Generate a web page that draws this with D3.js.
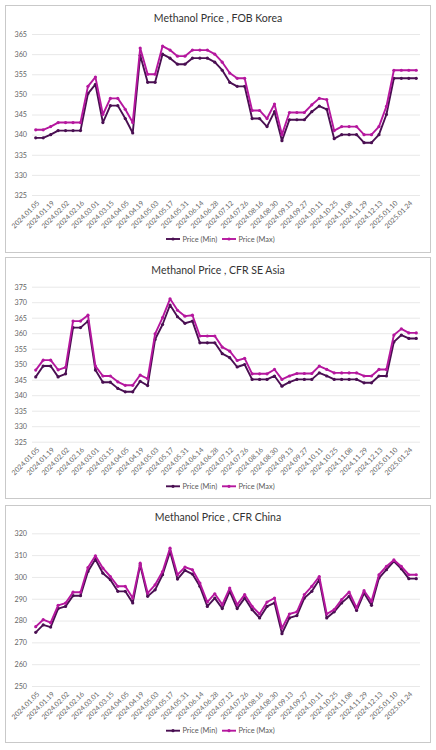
<!DOCTYPE html>
<html><head><meta charset="utf-8">
<script src="https://cdn.jsdelivr.net/npm/d3@7/dist/d3.min.js"></script>
<style>
html,body{margin:0;padding:0;background:#fff;}
svg{display:block;font-family:Lato,"Open Sans",sans-serif;}
</style></head>
<body><svg id="c" width="436" height="750"></svg>
<script>
const categories = ["2024.01.05","2024.01.12","2024.01.19","2024.01.26","2024.02.02","2024.02.09","2024.02.16","2024.02.23","2024.03.01","2024.03.08","2024.03.15","2024.03.22","2024.04.05","2024.04.12","2024.04.19","2024.04.26","2024.05.03","2024.05.10","2024.05.17","2024.05.24","2024.05.31","2024.06.07","2024.06.14","2024.06.21","2024.06.28","2024.07.05","2024.07.12","2024.07.19","2024.07.26","2024.08.02","2024.08.16","2024.08.23","2024.08.30","2024.09.06","2024.09.13","2024.09.20","2024.09.27","2024.10.04","2024.10.11","2024.10.18","2024.10.25","2024.11.01","2024.11.08","2024.11.15","2024.11.29","2024.12.06","2024.12.13","2024.12.20","2025.01.10","2025.01.17","2025.01.24","2025.01.31"];

const seriesNames = ["Price (Min)","Price (Max)"];
const titles = ["Methanol Price , FOB Korea","Methanol Price , CFR SE Asia","Methanol Price , CFR China"];

const korMin = [339.2,339.2,340,341,341,341,341,350.2,352.5,343,347.2,347.2,344,340.4,359.7,353,353,360,359,357.5,357.5,359,359,359,358,356,353,352,352,344,344,342,345.7,338.5,343.7,343.7,343.7,345.7,347.1,346.3,339,340,340,340,338,338,340,345,354,354,354,354];
const korMax = [341.2,341.2,342,343,343,343,343,352,354.3,345,349,349,346.3,343,361.5,355,355,362,361,359.5,359.5,361,361,361,360,358,355.3,354,354,346,346,344,347.6,340,345.5,345.5,345.5,347.4,349,348.7,341,342,342,342,340,340,342,347,356,356,356,356];

const seaMin = [345.9,349.4,349.4,345.9,346.9,361.8,361.8,363.9,348.1,344.2,344.2,342.2,341.1,341.1,344.5,343.1,358,362.8,369.1,365.3,363.2,363.9,356.9,356.9,356.9,353.4,352.1,349.1,349.9,345.1,345.1,345.1,346.2,342.9,344.2,345.1,345.1,345.1,347.2,346.2,345.1,345.1,345.1,345.1,344,344,346.2,346.2,357.2,359.4,358.3,358.3];
const seaMax = [348.1,351.3,351.3,348.2,349,363.9,363.9,365.8,349.4,346.2,346.2,344.3,343.2,343.2,346.5,345.3,359.8,365,371.1,367.4,365.5,365.8,359.1,359.1,359.1,355.5,354.2,351.2,351.9,346.9,346.9,346.9,348.3,345.1,346.2,347,347,347,349.4,348.3,347.2,347.2,347.2,347.2,346.2,346.2,348.3,348.3,359.4,361.4,360.1,360.1];

const chnMin = [274.6,278,277,285.5,286.5,291.4,291.4,302.5,308.1,301.7,298.7,293.4,293.4,288.1,305.5,291.1,294.1,301,311.6,299,303,301.3,295.7,286.5,290.3,285.5,293.4,285.5,290.3,285,281.2,286.5,288.1,274,281.2,282.3,290.3,293.4,298.7,281.2,284,288.1,291.1,284.6,292.6,287,299.5,303.3,307.1,303.7,299.2,299.2];
const chnMax = [277.2,280.4,279,287,288,293,293,304.3,309.7,304,300.2,295.7,295.7,290.3,306.3,292.6,296.4,302.5,313.2,301,304.5,303.3,297.2,288.5,292.3,287.3,294.9,287.3,291.9,286.5,283,288.5,290.3,276.5,283,284,291.9,295.7,300.2,283,285,289.6,293.1,285.8,293.7,288.8,301,304.8,307.8,304.8,301,301];

const korTicks = [325,330,335,340,345,350,355,360,365];
const seaTicks = [325,330,335,340,345,350,355,360,365,370,375];
const chnTicks = [250,260,270,280,290,300,310,320];

const colors = ["#4a0f52","#b5179e"];

const svg = d3.select("#c");

const panels = [
  {box:[5,5,425,247], title:titles[0], titleY:21.5, y0:195, y1:34, ticks:korTicks, series:[korMin,korMax], legendY:239},
  {box:[5,257,425,241], title:titles[1], titleY:273.5, y0:441.7, y1:286.7, ticks:seaTicks, series:[seaMin,seaMax], legendY:486.3},
  {box:[5,505,425,237], title:titles[2], titleY:521, y0:686, y1:533.3, ticks:chnTicks, series:[chnMin,chnMax], legendY:730.7}
];

const x = d3.scaleBand().domain(categories).range([32,420]);

panels.forEach(p => {
  const g = svg.append("g");
  g.append("rect").attr("x",p.box[0]+0.5).attr("y",p.box[1]+0.5).attr("width",p.box[2]).attr("height",p.box[3])
    .attr("fill","#fff").attr("stroke","#c9c9c9").attr("stroke-width",1);
  g.append("text").attr("x",218).attr("y",p.titleY).attr("text-anchor","middle")
    .attr("font-size",10.5).attr("fill","#333").text(p.title);

  const y = d3.scaleLinear().domain(d3.extent(p.ticks)).range([p.y0,p.y1]);

  const ya = g.append("g").attr("transform","translate(32,0)")
    .call(d3.axisLeft(y).tickValues(p.ticks).tickSize(-388).tickPadding(5).tickFormat(d3.format("d")));
  ya.select(".domain").remove();
  ya.selectAll("line").attr("stroke","#e2e2e2").attr("stroke-width",0.8);
  ya.selectAll("text").attr("font-size",7.2).attr("fill","#666").attr("font-family","Lato,sans-serif");

  const xa = g.append("g").attr("transform",`translate(0,${p.y0})`)
    .call(d3.axisBottom(x).tickSize(0).tickFormat((d,i)=> i%2===0 ? d : ""));
  xa.select(".domain").remove();
  xa.selectAll("text").attr("font-size",7).attr("fill","#666").attr("font-family","Lato,sans-serif")
    .attr("text-anchor","end").attr("dy",0)
    .attr("transform","translate(2,6.5) rotate(-45)");

  const line = d3.line().x((d,i)=>x(categories[i])+x.bandwidth()/2).y(d=>y(d));
  p.series.forEach((s,k) => {
    g.append("path").datum(s).attr("d",line).attr("fill","none")
      .attr("stroke",colors[k]).attr("stroke-width",1.9).attr("stroke-linejoin","round");
    g.selectAll(null).data(s).enter().append("circle")
      .attr("cx",(d,i)=>x(categories[i])+x.bandwidth()/2).attr("cy",d=>y(d)).attr("r",1.6)
      .attr("fill",colors[k]);
  });

  const lg = g.append("g");
  const lx = [166,222];
  seriesNames.forEach((n,k) => {
    lg.append("line").attr("x1",lx[k]).attr("x2",lx[k]+14).attr("y1",p.legendY).attr("y2",p.legendY)
      .attr("stroke",colors[k]).attr("stroke-width",1.9);
    lg.append("circle").attr("cx",lx[k]+7).attr("cy",p.legendY).attr("r",1.6).attr("fill",colors[k]);
    lg.append("text").attr("x",lx[k]+16.5).attr("y",p.legendY).attr("dy","0.35em")
      .attr("font-size",7.4).attr("fill","#595959").text(n);
  });
});
</script></body></html>
